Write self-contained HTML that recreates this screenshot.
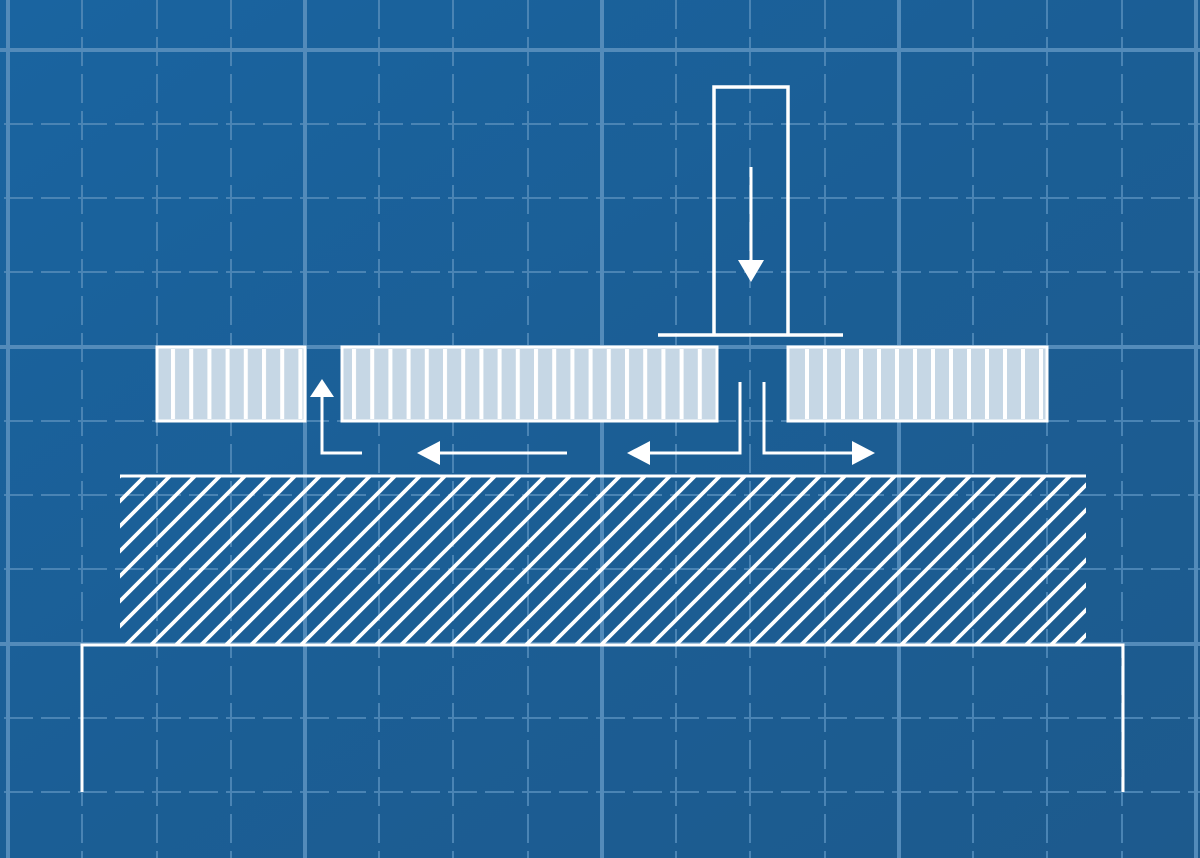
<!DOCTYPE html>
<html><head><style>html,body{margin:0;padding:0;background:#1b5f96;}svg{display:block}</style></head>
<body>
<svg width="1200" height="858" viewBox="0 0 1200 858" xmlns="http://www.w3.org/2000/svg">
<defs>
<linearGradient id="bg" x1="0" y1="0" x2="1" y2="1">
<stop offset="0" stop-color="#1a64a0"/><stop offset="0.5" stop-color="#1b5e95"/><stop offset="1" stop-color="#1d5a8d"/>
</linearGradient>
<pattern id="hatch" patternUnits="userSpaceOnUse" width="25" height="25" patternTransform="translate(120,476)">
<path d="M-5,5 L5,-5 M0,25 L25,0 M20,30 L30,20" stroke="#fff" stroke-width="3.8"/>
</pattern>
<clipPath id="hc"><rect x="120" y="476" width="966" height="168"/></clipPath>
</defs>
<rect width="1200" height="858" fill="url(#bg)"/>
<g stroke="#4a84b4" stroke-width="2" stroke-dasharray="29 8" fill="none">
<path d="M82,-4V858 M157,-4V858 M231,-4V858 M379,-4V858 M453,-4V858 M528,-4V858 M676,-4V858 M750,-4V858 M825,-4V858 M973,-4V858 M1047,-4V858 M1122,-4V858" stroke-dashoffset="-4"/>
<path d="M-4,124H1200 M-4,198H1200 M-4,272H1200 M-4,421H1200 M-4,495H1200 M-4,569H1200 M-4,718H1200 M-4,792H1200" stroke-dashoffset="-8"/>
</g>
<g stroke="#538bba" stroke-width="4" fill="none">
<path d="M8,0V858 M305,0V858 M602,0V858 M899,0V858 M1196,0V858 M0,50H1200 M0,347H1200 M0,644H1200"/>
</g>
<rect x="120" y="476" width="966" height="168" fill="url(#hatch)" clip-path="url(#hc)"/>
<path d="M120,476H1086" stroke="#fff" stroke-width="3"/>
<path d="M82,792V645H1123V792" stroke="#fff" stroke-width="3" fill="none"/>
<defs>
<pattern id="s1" patternUnits="userSpaceOnUse" width="18.2" height="80" patternTransform="translate(171,0)">
<rect x="0" y="0" width="4" height="80" fill="#fff"/></pattern>
<pattern id="s2" patternUnits="userSpaceOnUse" width="18.2" height="80" patternTransform="translate(352,0)">
<rect x="0" y="0" width="4" height="80" fill="#fff"/></pattern>
<pattern id="s3" patternUnits="userSpaceOnUse" width="18" height="80" patternTransform="translate(805,0)">
<rect x="0" y="0" width="4" height="80" fill="#fff"/></pattern>
</defs>
<g stroke="#fff" stroke-width="3">
<rect x="157" y="347" width="148" height="74" fill="#c6d7e5"/>
<rect x="342" y="347" width="375" height="74" fill="#c6d7e5"/>
<rect x="788" y="347" width="259" height="74" fill="#c6d7e5"/>
</g>
<rect x="160" y="349" width="143" height="70" fill="url(#s1)"/>
<rect x="345" y="349" width="370" height="70" fill="url(#s2)"/>
<rect x="791" y="349" width="254" height="70" fill="url(#s3)"/>
<path d="M714,334V87H788V334" stroke="#fff" stroke-width="3.5" fill="none"/>
<path d="M658,335H843" stroke="#fff" stroke-width="3.5"/>
<path d="M751,167V262" stroke="#fff" stroke-width="3"/>
<path d="M738,260H764L751,282Z" fill="#fff"/>
<g stroke="#fff" stroke-width="3" fill="none">
<path d="M362,453H322V394"/>
<path d="M567,453H438"/>
<path d="M740,382V453H648"/>
<path d="M764,382V453H855"/>
</g>
<g fill="#fff">
<path d="M310,397H334L322,379Z"/>
<path d="M440,441V465L417,453Z"/>
<path d="M650,441V465L627,453Z"/>
<path d="M852,441V465L875,453Z"/>
</g>
</svg>
</body></html>
